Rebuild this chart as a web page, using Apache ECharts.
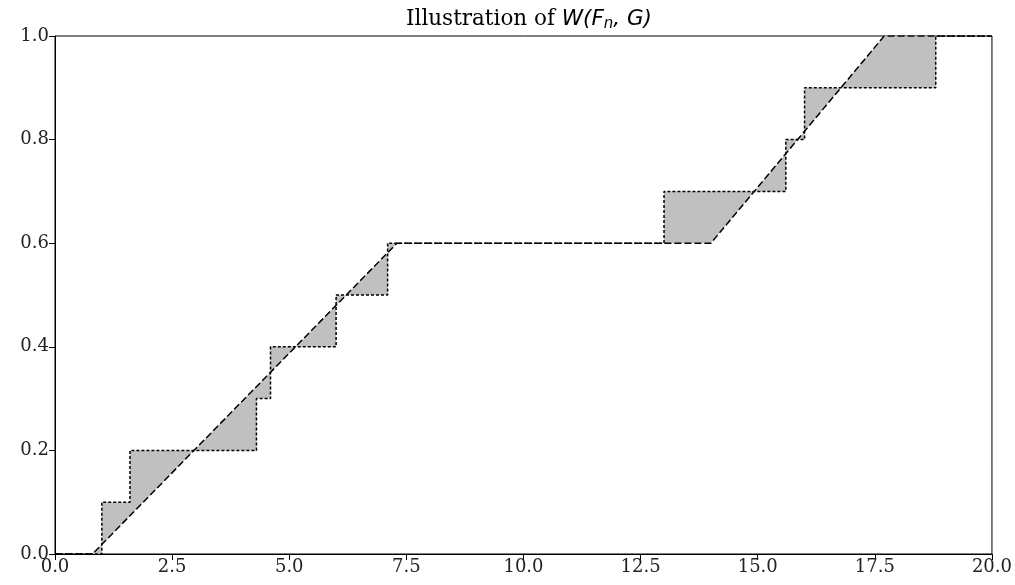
<!DOCTYPE html>
<html>
<head>
<meta charset="utf-8">
<script src="https://cdn.jsdelivr.net/npm/echarts@6/dist/echarts.min.js"></script>
<style>
  html, body { margin: 0; padding: 0; background: #fff; }
  #chart { width: 1015px; height: 585px; }
</style>
</head>
<body>
<div id="chart"></div>
<script>
// empirical cdf F_n: jump positions and levels after each jump
const jumpX = [1.0, 1.6, 4.3, 4.6, 6.0, 7.1, 13.0, 15.6, 16.0, 18.8];
const jumpY = [0.1, 0.2, 0.3, 0.4, 0.5, 0.6, 0.7, 0.8, 0.9, 1.0];
// piecewise linear cdf G
const gX = [0.0, 0.8, 7.3, 14.0, 17.7, 20.0];
const gY = [0.0, 0.0, 0.6, 0.6, 1.0, 1.0];
const xTicks = [0, 2.5, 5, 7.5, 10, 12.5, 15, 17.5, 20];
const yTicks = [0, 0.2, 0.4, 0.6, 0.8, 1.0];

const xMin = 0, xMax = 20;

// step line points (step: 'end')
let fLine = [[xMin, 0]];
for (let i = 0; i < jumpX.length; i++) fLine.push([jumpX[i], jumpY[i]]);
fLine.push([xMax, jumpY[jumpY.length - 1]]);

// explicit step vertices for the shaded polygon
let fVerts = [[xMin, 0]];
let lvl = 0;
for (let i = 0; i < jumpX.length; i++) {
  fVerts.push([jumpX[i], lvl]);
  lvl = jumpY[i];
  fVerts.push([jumpX[i], lvl]);
}
fVerts.push([xMax, lvl]);

let gLine = gX.map((x, i) => [x, gY[i]]);

const chart = echarts.init(document.getElementById('chart'));
const option = {
  animation: false,
  title: {
    text: '{a|Illustration of }{m|W(F}{s|n}{m|, G)}',
    left: 524,
    top: 1,
    textAlign: 'center',
    textStyle: {
      fontWeight: 'normal',
      rich: {
        a: { fontFamily: 'DejaVu Serif', fontWeight: 'normal', fontSize: 21.5, color: '#000' },
        m: { fontFamily: 'DejaVu Sans', fontWeight: 'normal', fontStyle: 'italic', fontSize: 21.5, color: '#000' },
        s: { fontFamily: 'DejaVu Sans', fontWeight: 'normal', fontStyle: 'italic', fontSize: 15, color: '#000', verticalAlign: 'bottom', padding: [11, 0, 0, 0] }
      }
    }
  },
  grid: {
    left: 55, right: 22, top: 36, bottom: 31,
    show: true, borderColor: '#000', borderWidth: 1, backgroundColor: 'transparent'
  },
  xAxis: {
    type: 'value', min: xMin, max: xMax, interval: 2.5,
    axisLine: { show: true, lineStyle: { color: '#000', width: 1 } },
    axisTick: { show: true, length: 6, lineStyle: { color: '#000' } },
    splitLine: { show: false },
    axisLabel: {
      color: '#222', fontFamily: 'DejaVu Serif', fontSize: 18, margin: 4,
      formatter: v => xTicks.includes(v) ? v.toFixed(1) : ''
    }
  },
  yAxis: {
    type: 'value', min: 0, max: 1, interval: 0.2,
    axisLine: { show: true, lineStyle: { color: '#000', width: 1 } },
    axisTick: { show: true, length: 6, lineStyle: { color: '#000' } },
    splitLine: { show: false },
    axisLabel: {
      color: '#222', fontFamily: 'DejaVu Serif', fontSize: 18, margin: 6,
      formatter: v => v.toFixed(1)
    }
  },
  series: [
    {
      // shaded area between F_n and G
      type: 'custom',
      clip: true,
      z: 1,
      data: [[0, 0]],
      renderItem: function (params, api) {
        const pts = fVerts.concat(gLine.slice().reverse()).map(p => api.coord(p));
        return {
          type: 'polygon',
          shape: { points: pts },
          style: { fill: '#c0c0c0', stroke: null }
        };
      }
    },
    {
      name: 'F_n',
      type: 'line',
      step: 'end',
      data: fLine,
      symbol: 'none',
      z: 3,
      lineStyle: { color: '#000', width: 1.5, type: [3, 2] }
    },
    {
      name: 'G',
      type: 'line',
      data: gLine,
      symbol: 'none',
      z: 4,
      lineStyle: { color: '#000', width: 1.5, type: [7, 3] }
    }
  ]
};
chart.setOption(option);
</script>
</body>
</html>
